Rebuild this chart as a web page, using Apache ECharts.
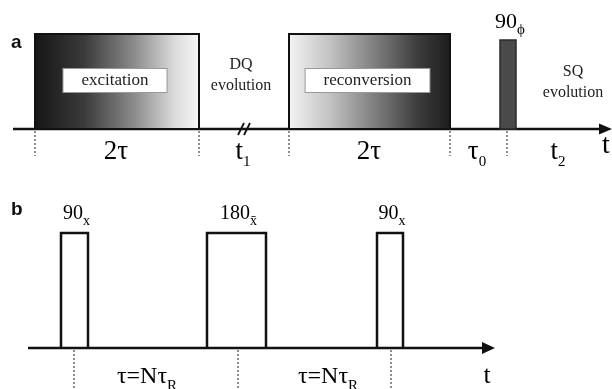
<!DOCTYPE html>
<html>
<head>
<meta charset="utf-8">
<script src="https://cdn.jsdelivr.net/npm/echarts@6/dist/echarts.min.js"></script>
<style>
  html, body { margin: 0; padding: 0; background: #fff; }
  #main { width: 612px; height: 389px; }
</style>
</head>
<body>
<div id="main"></div>
<script>
// panel a: DQ sequence (times in arbitrary units along the axis)
const blockNames = ['excitation', 'reconversion'];
const blockStart = [35, 289];
const blockEnd = [199, 450];
const blockHeight = [95, 95];
const readPulse = [500, 516, 89]; // start, end, height of 90_phi
const axisA = [13, 612];
const gatesA = [35, 199, 289, 450, 507];
const spanLabelsA = [['2τ', ''], ['t', '1'], ['2τ', ''], ['τ', '0'], ['t', '2']];
const spanPosA = [116, 243, 369, 477, 558];
const breakA = 244;
const notesA = [['DQ', 'evolution'], ['SQ', 'evolution']];
const notesPosA = [241, 573];
const notesLevelA = [54, 47];

// panel b: pulse train
const pulseNamesB = [['90', 'x'], ['180', 'x\u0304'], ['90', 'x']];
const pulseStartB = [61, 207, 377];
const pulseEndB = [88, 266, 403];
const pulseHeightB = [115, 115, 115];
const gatesB = [74, 238, 391];
const spanLabelsB = [['τ=Nτ', 'R'], ['τ=Nτ', 'R']];
const spanPosB = [147, 328];
const axisB = [28, 495];

const SERIF = '"Liberation Serif", "DejaVu Serif", serif';

const chart = echarts.init(document.getElementById('main'));

function subText(base, sub, x, y, size, subSize) {
  return {
    type: 'text',
    style: {
      text: sub ? '{b|' + base + '}{s|' + sub + '}' : '{b|' + base + '}',
      x: x, y: y, align: 'center', verticalAlign: 'middle',
      rich: {
        b: { fontSize: size, fontFamily: SERIF, color: '#111', lineHeight: size + 4 },
        s: { fontSize: subSize, fontFamily: SERIF, color: '#111', verticalAlign: 'bottom', lineHeight: size + 9 }
      }
    }
  };
}

function axisItem(x0, x1, headLen, headHalf) {
  return function (params, api) {
    const a = api.coord([x0, 0]);
    const b = api.coord([x1, 0]);
    return {
      type: 'group',
      children: [
        { type: 'line', shape: { x1: a[0], y1: a[1], x2: b[0] - headLen + 2, y2: b[1] },
          style: { stroke: '#111', lineWidth: 2.5 } },
        { type: 'polygon', shape: { points: [[b[0], b[1]], [b[0] - headLen, b[1] - headHalf], [b[0] - headLen, b[1] + headHalf]] },
          style: { fill: '#111' } }
      ]
    };
  };
}

function gateItem(depth) {
  return function (params, api) {
    const a = api.coord([api.value(0), 0]);
    return { type: 'line', shape: { x1: a[0], y1: a[1] + 2, x2: a[0], y2: a[1] + depth },
      style: { stroke: '#444', lineWidth: 1.2, lineDash: [2, 2] } };
  };
}

const gradients = [
  new echarts.graphic.LinearGradient(0, 0, 1, 0, [
    { offset: 0, color: '#151515' }, { offset: 0.3, color: '#3a3a3a' },
    { offset: 0.6, color: '#8a8a8a' }, { offset: 0.85, color: '#dcdcdc' }, { offset: 1, color: '#f8f8f8' }
  ]),
  new echarts.graphic.LinearGradient(0, 0, 1, 0, [
    { offset: 0, color: '#f4f4f4' }, { offset: 0.25, color: '#c4c4c4' },
    { offset: 0.55, color: '#7a7a7a' }, { offset: 0.8, color: '#3c3c3c' }, { offset: 1, color: '#1c1c1c' }
  ])
];

const option = {
  animation: false,
  grid: [
    { left: 0, right: 0, top: 34, height: 95 },
    { left: 0, right: 0, top: 233, height: 115 }
  ],
  xAxis: [
    { gridIndex: 0, type: 'value', min: 0, max: 612, show: false },
    { gridIndex: 1, type: 'value', min: 0, max: 612, show: false }
  ],
  yAxis: [
    { gridIndex: 0, type: 'value', min: 0, max: 95, show: false },
    { gridIndex: 1, type: 'value', min: 0, max: 115, show: false }
  ],
  graphic: [
    { type: 'text', left: 11, top: 33, style: { text: 'a', font: 'bold 19px "Liberation Sans", Arial, sans-serif', fill: '#111' } },
    { type: 'text', left: 11, top: 200, style: { text: 'b', font: 'bold 19px "Liberation Sans", Arial, sans-serif', fill: '#111' } }
  ],
  series: [
    // panel a: axis
    {
      type: 'custom', xAxisIndex: 0, yAxisIndex: 0, data: [[0]],
      renderItem: axisItem(axisA[0], axisA[1], 13, 5.5), z: 1
    },
    // excitation / reconversion blocks
    {
      type: 'custom', xAxisIndex: 0, yAxisIndex: 0, z: 2,
      data: blockStart.map((s, i) => [s, blockEnd[i], blockHeight[i], i]),
      renderItem: function (params, api) {
        const i = api.value(3);
        const p0 = api.coord([api.value(0), 0]);
        const p1 = api.coord([api.value(1), api.value(2)]);
        const cx = (p0[0] + p1[0]) / 2;
        const cy = (p0[1] + p1[1]) / 2;
        return {
          type: 'group',
          children: [
            { type: 'rect', shape: { x: p0[0], y: p1[1], width: p1[0] - p0[0], height: p0[1] - p1[1] },
              style: { fill: gradients[i], stroke: '#111', lineWidth: 2 } },
            { type: 'text', style: {
                text: blockNames[i], x: cx - 2, y: cy - 1, align: 'center', verticalAlign: 'middle',
                font: '17px ' + SERIF, fill: '#222',
                backgroundColor: '#fff', borderColor: '#999', borderWidth: 1, padding: [3, 18, 3, 18]
              } }
          ]
        };
      }
    },
    // 90_phi read pulse
    {
      type: 'custom', xAxisIndex: 0, yAxisIndex: 0, z: 2,
      data: [readPulse],
      renderItem: function (params, api) {
        const p0 = api.coord([api.value(0), 0]);
        const p1 = api.coord([api.value(1), api.value(2)]);
        const g = subText('90', 'ϕ', (p0[0] + p1[0]) / 2 + 2, p1[1] - 18, 22, 15);
        return {
          type: 'group',
          children: [
            { type: 'rect', shape: { x: p0[0], y: p1[1], width: p1[0] - p0[0], height: p0[1] - p1[1] },
              style: { fill: '#4a4a4a', stroke: '#2a2a2a', lineWidth: 1.5 } },
            g
          ]
        };
      }
    },
    // break mark on t1
    {
      type: 'custom', xAxisIndex: 0, yAxisIndex: 0, z: 3, data: [[breakA]],
      renderItem: function (params, api) {
        const c = api.coord([api.value(0), 0]);
        return {
          type: 'group',
          children: [-3, 3].map(d => ({
            type: 'line', shape: { x1: c[0] + d - 3, y1: c[1] + 6, x2: c[0] + d + 3, y2: c[1] - 6 },
            style: { stroke: '#111', lineWidth: 1.8 }
          }))
        };
      }
    },
    // dotted gates a
    {
      type: 'custom', xAxisIndex: 0, yAxisIndex: 0, z: 1,
      data: gatesA.map(g => [g]), renderItem: gateItem(27)
    },
    // interval labels a
    {
      type: 'custom', xAxisIndex: 0, yAxisIndex: 0, z: 3,
      data: spanPosA.map((x, i) => [x, i]),
      renderItem: function (params, api) {
        const c = api.coord([api.value(0), 0]);
        const lab = spanLabelsA[api.value(1)];
        return subText(lab[0], lab[1], c[0], c[1] + 23, 27, 15);
      }
    },
    // axis label t (a)
    {
      type: 'custom', xAxisIndex: 0, yAxisIndex: 0, z: 3, data: [[606]],
      renderItem: function (params, api) {
        const c = api.coord([api.value(0), 0]);
        return subText('t', '', c[0], c[1] + 17, 28, 14);
      }
    },
    // DQ / SQ evolution notes
    {
      type: 'custom', xAxisIndex: 0, yAxisIndex: 0, z: 3,
      data: notesPosA.map((x, i) => [x, notesLevelA[i], i]),
      renderItem: function (params, api) {
        const c = api.coord([api.value(0), api.value(1)]);
        const n = notesA[api.value(2)];
        return {
          type: 'text', style: {
            text: n[0] + '\n' + n[1], x: c[0], y: c[1], align: 'center', verticalAlign: 'middle',
            font: '16px ' + SERIF, fill: '#222', lineHeight: 21
          }
        };
      }
    },

    // panel b: axis
    {
      type: 'custom', xAxisIndex: 1, yAxisIndex: 1, data: [[0]],
      renderItem: axisItem(axisB[0], axisB[1], 13, 6), z: 1
    },
    // rectangular pulses
    {
      type: 'custom', xAxisIndex: 1, yAxisIndex: 1, z: 2,
      data: pulseStartB.map((s, i) => [s, pulseEndB[i], pulseHeightB[i], i]),
      renderItem: function (params, api) {
        const i = api.value(3);
        const p0 = api.coord([api.value(0), 0]);
        const p1 = api.coord([api.value(1), api.value(2)]);
        const lab = pulseNamesB[i];
        return {
          type: 'group',
          children: [
            { type: 'polyline', shape: { points: [[p0[0], p0[1]], [p0[0], p1[1]], [p1[0], p1[1]], [p1[0], p0[1]]] },
              style: { stroke: '#111', lineWidth: 2.5, fill: null } },
            subText(lab[0], lab[1], (p0[0] + p1[0]) / 2 + 2, p1[1] - 19, 20, 14)
          ]
        };
      }
    },
    // dotted gates b
    {
      type: 'custom', xAxisIndex: 1, yAxisIndex: 1, z: 1,
      data: gatesB.map(g => [g]), renderItem: gateItem(42)
    },
    // interval labels b
    {
      type: 'custom', xAxisIndex: 1, yAxisIndex: 1, z: 3,
      data: spanPosB.map((x, i) => [x, i]),
      renderItem: function (params, api) {
        const c = api.coord([api.value(0), 0]);
        const lab = spanLabelsB[api.value(1)];
        return subText(lab[0], lab[1], c[0], c[1] + 29, 24, 15);
      }
    },
    // axis label t (b)
    {
      type: 'custom', xAxisIndex: 1, yAxisIndex: 1, z: 3, data: [[487]],
      renderItem: function (params, api) {
        const c = api.coord([api.value(0), 0]);
        return subText('t', '', c[0], c[1] + 28, 26, 14);
      }
    }
  ]
};

chart.setOption(option);
</script>
</body>
</html>
